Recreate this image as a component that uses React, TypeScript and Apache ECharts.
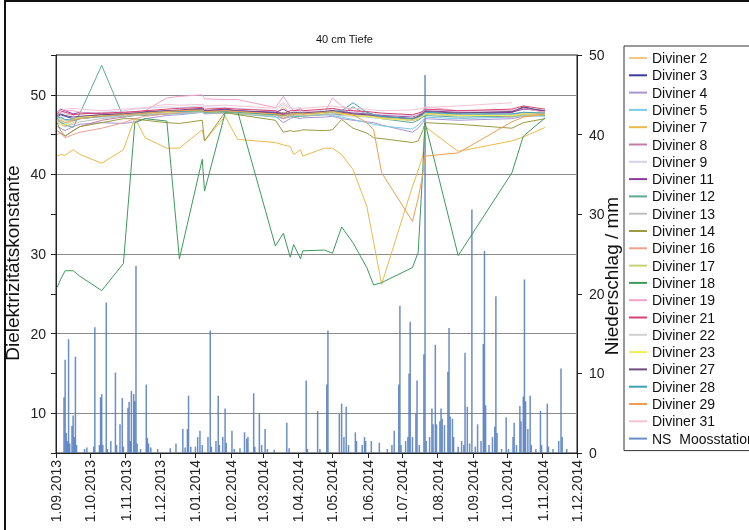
import React, { useEffect, useRef } from 'react';
import * as echarts from 'echarts';

// Measurement dates of the Diviner probes
const sampleDates = [
  '2013-09-02', '2013-09-05', '2013-09-09', '2013-09-16', '2013-09-22', '2013-10-11', '2013-10-30',
  '2013-11-09', '2013-11-18', '2013-12-07', '2013-12-18', '2014-01-07', '2014-01-09', '2014-01-27',
  '2014-02-07', '2014-03-12', '2014-03-19', '2014-03-25', '2014-03-28', '2014-04-03', '2014-04-05',
  '2014-04-24', '2014-05-01', '2014-05-09', '2014-05-19', '2014-05-31', '2014-06-06', '2014-06-13',
  '2014-07-10', '2014-07-15', '2014-07-19', '2014-07-21', '2014-08-19', '2014-10-05', '2014-10-15',
  '2014-11-03',
];

const d2 = [47.0, 46.8, 46.0, 46.5, 47.0, 47.5, 47.8, 47.6, 47.5, 47.8, 48.0, 48.2, 47.9, 48.0, 47.8, 47.5, 48.5, 47.8, 47.6, 47.5, 47.6, 47.8, 48.0, 47.8, 47.5, 47.4, 47.3, 47.2, 47.0, 47.2, 47.5, 47.8, 47.5, 47.2, 47.5, 47.8];
const d3 = [47.2, 47.5, 47.3, 47.0, 47.2, 47.4, 47.5, 47.6, 47.6, 47.8, 47.9, 48.0, 47.9, 48.0, 47.9, 47.8, 47.6, 47.5, 47.5, 47.6, 47.6, 47.7, 47.8, 47.6, 47.5, 47.4, 47.3, 47.2, 46.8, 47.0, 47.3, 47.6, 47.4, 47.8, 48.5, 47.8];
const d4 = [46.0, 45.8, 45.5, 46.0, 46.3, 46.5, 46.4, 46.6, 47.0, 47.4, 47.5, 47.8, 47.6, 47.7, 47.6, 47.3, 46.5, 47.0, 47.2, 47.0, 47.1, 47.2, 47.3, 47.0, 46.8, 46.6, 46.5, 46.2, 45.3, 45.8, 46.5, 47.0, 46.8, 47.0, 47.3, 47.4];
const d5 = [46.8, 46.6, 46.3, 46.7, 47.0, 47.2, 47.3, 47.4, 47.4, 47.6, 47.6, 47.8, 47.7, 47.8, 47.6, 47.2, 47.0, 47.2, 47.3, 47.4, 47.4, 47.5, 47.4, 47.2, 46.9, 46.5, 46.3, 46.1, 45.7, 46.2, 46.8, 47.2, 47.0, 47.2, 47.4, 47.3];
const d7 = [42.3, 42.5, 42.4, 43.1, 42.5, 41.4, 43.1, 47.1, 44.6, 43.3, 43.3, 45.6, 44.2, 47.3, 44.4, 44.0, 43.7, 43.5, 42.5, 43.1, 42.3, 43.3, 43.3, 42.5, 40.6, 36.0, 31.5, 26.2, 38.5, 40.5, 42.3, 46.0, 42.9, 44.2, 44.7, 45.9];
const d8 = [45.5, 45.2, 44.8, 45.5, 46.0, 46.8, 47.2, 47.4, 47.5, 47.8, 48.0, 48.2, 48.0, 48.1, 48.0, 47.6, 47.0, 47.5, 47.6, 47.7, 47.6, 47.8, 48.0, 47.8, 47.6, 47.5, 47.4, 47.2, 46.8, 47.0, 47.4, 47.8, 47.5, 47.4, 47.8, 47.6];
const d9 = [47.5, 47.8, 47.6, 47.4, 47.6, 47.8, 48.0, 48.2, 48.3, 48.5, 48.4, 48.6, 48.5, 48.4, 48.3, 48.0, 48.8, 48.2, 48.0, 48.0, 47.9, 48.0, 48.2, 48.0, 47.8, 47.7, 47.6, 47.5, 47.4, 47.5, 47.8, 48.2, 48.0, 48.0, 48.2, 47.9];
const d11 = [47.8, 48.2, 48.0, 47.6, 47.8, 47.6, 47.7, 47.8, 47.9, 48.0, 48.1, 48.3, 48.0, 48.2, 48.0, 47.8, 48.2, 47.7, 47.6, 47.8, 47.7, 47.9, 48.0, 47.9, 47.7, 47.6, 47.5, 47.4, 47.2, 47.4, 47.7, 48.0, 47.8, 47.8, 48.2, 48.0];
const d12 = [47.0, 46.5, 46.2, 45.9, 47.7, 53.7, 47.2, 47.5, 47.4, 47.6, 47.7, 47.9, 47.7, 47.8, 47.7, 47.4, 47.8, 47.3, 47.2, 47.3, 47.3, 47.5, 47.6, 47.5, 48.5, 47.5, 47.3, 47.0, 46.5, 46.8, 47.2, 47.4, 47.2, 47.3, 47.5, 47.4];
const d13 = [46.5, 46.3, 46.0, 46.3, 46.6, 47.0, 47.3, 47.4, 47.5, 47.7, 47.7, 47.8, 47.7, 47.7, 47.6, 47.4, 47.2, 47.3, 47.4, 47.4, 47.4, 47.5, 47.5, 47.4, 47.3, 47.2, 47.1, 47.0, 46.8, 47.0, 47.3, 47.5, 47.4, 47.5, 47.6, 47.5];
const d14 = [46.5, 45.5, 44.8, 45.5, 46.0, 46.5, 47.0, 47.0, 46.8, 46.5, 46.4, 46.8, 44.2, 47.8, 47.5, 46.8, 45.3, 45.5, 45.4, 45.5, 45.6, 45.5, 45.6, 46.9, 45.8, 45.2, 44.6, 44.5, 44.0, 44.2, 45.5, 46.5, 46.3, 45.8, 46.5, 47.0];
const d16 = [45.0, 45.2, 44.6, 45.0, 45.3, 45.8, 46.5, 47.0, 47.3, 47.6, 47.8, 48.0, 47.8, 47.9, 47.8, 47.5, 47.0, 47.4, 47.5, 47.6, 47.5, 47.7, 47.9, 47.7, 47.5, 47.4, 47.3, 47.1, 46.9, 47.1, 47.4, 47.7, 47.5, 47.3, 47.6, 47.5];
const d17 = [47.2, 47.0, 46.7, 47.0, 47.2, 47.4, 47.5, 47.5, 47.6, 47.8, 47.9, 48.0, 47.8, 47.9, 47.7, 47.4, 47.3, 47.5, 47.5, 47.6, 47.6, 47.7, 47.8, 47.6, 47.4, 47.3, 47.2, 47.1, 46.9, 47.1, 47.4, 47.7, 47.5, 47.4, 47.3, 47.5];
const d18 = [25.8, 26.8, 27.9, 27.9, 27.2, 25.4, 28.8, 46.5, 47.0, 46.7, 29.4, 41.9, 37.9, 47.7, 47.9, 31.0, 32.6, 29.6, 31.2, 29.4, 30.4, 30.5, 30.1, 33.4, 31.4, 28.3, 26.1, 26.4, 28.3, 30.2, 40.6, 46.5, 29.8, 40.2, 44.8, 47.1];
const d19 = [47.5, 47.8, 48.0, 48.0, 47.8, 47.5, 47.8, 47.8, 48.0, 49.6, 49.8, 50.0, 49.5, 49.4, 49.4, 48.4, 49.8, 48.5, 48.0, 48.3, 48.0, 47.8, 49.6, 48.6, 48.0, 47.8, 47.5, 47.3, 47.0, 47.5, 48.0, 48.5, 48.0, 48.0, 48.3, 47.8];
const d21 = [47.6, 48.0, 47.8, 47.5, 47.6, 47.7, 47.8, 47.9, 48.0, 48.2, 48.3, 48.4, 48.2, 48.3, 48.2, 48.0, 47.6, 48.0, 48.0, 48.1, 48.0, 48.2, 48.3, 48.1, 48.0, 47.9, 47.8, 47.7, 47.5, 47.7, 47.9, 48.2, 48.0, 48.2, 48.6, 48.2];
const d22 = [46.8, 47.0, 46.8, 46.9, 47.1, 47.3, 47.4, 47.6, 47.7, 47.9, 48.0, 48.1, 47.9, 48.0, 47.9, 47.6, 47.5, 47.6, 47.7, 47.7, 47.6, 47.8, 47.9, 47.7, 47.6, 47.5, 47.4, 47.3, 47.1, 47.3, 47.5, 47.8, 47.6, 47.6, 47.8, 47.7];
const d23 = [46.8, 46.3, 46.2, 46.8, 47.2, 47.4, 47.6, 47.6, 47.7, 47.8, 47.9, 48.0, 47.8, 47.9, 47.8, 47.5, 47.5, 47.6, 47.6, 47.6, 47.5, 47.7, 47.9, 47.6, 47.4, 47.3, 47.2, 47.0, 46.8, 47.0, 47.3, 47.6, 47.4, 47.4, 47.6, 47.6];
const d27 = [47.4, 47.6, 47.4, 47.2, 47.3, 47.5, 47.6, 47.7, 47.8, 48.0, 48.0, 48.2, 48.0, 48.1, 48.0, 47.7, 47.5, 47.7, 47.8, 47.8, 47.7, 47.9, 48.0, 47.8, 47.6, 47.5, 47.4, 47.3, 47.0, 47.3, 47.6, 47.9, 47.7, 47.9, 48.4, 48.0];
const d28 = [47.0, 47.2, 46.9, 46.8, 47.0, 47.3, 47.5, 47.6, 47.7, 47.9, 47.9, 48.0, 47.8, 47.9, 47.8, 47.5, 47.4, 47.6, 47.6, 47.7, 47.6, 47.8, 47.9, 48.0, 49.0, 47.8, 47.5, 47.3, 47.0, 47.2, 47.5, 47.8, 47.6, 47.6, 47.8, 47.7];
const d29 = [46.5, 46.8, 46.5, 46.8, 47.0, 47.3, 47.5, 47.6, 47.7, 47.9, 48.0, 48.1, 47.9, 48.0, 47.9, 47.6, 47.4, 47.6, 47.6, 47.7, 47.6, 47.8, 47.9, 47.7, 47.5, 46.5, 45.6, 40.2, 34.1, 37.0, 40.0, 42.3, 42.7, 46.6, 47.2, 47.6];
const d31 = [47.8, 48.0, 48.2, 48.3, 48.2, 48.0, 48.2, 48.3, 48.4, 48.8, 48.7, 48.8, 48.6, 48.7, 48.6, 48.3, 49.0, 48.4, 48.3, 48.4, 48.3, 48.5, 48.6, 48.4, 48.3, 48.2, 48.1, 48.0, 48.1, 48.2, 48.3, 48.4, 48.6, 49.0, null, null];

const divinerNames = [
  'Diviner 2', 'Diviner 3', 'Diviner 4', 'Diviner 5', 'Diviner 7', 'Diviner 8', 'Diviner 9', 'Diviner 11',
  'Diviner 12', 'Diviner 13', 'Diviner 14', 'Diviner 16', 'Diviner 17', 'Diviner 18', 'Diviner 19',
  'Diviner 21', 'Diviner 22', 'Diviner 23', 'Diviner 27', 'Diviner 28', 'Diviner 29', 'Diviner 31',
];
const divinerValues = [d2, d3, d4, d5, d7, d8, d9, d11, d12, d13, d14, d16, d17, d18, d19, d21, d22, d23, d27, d28, d29, d31];
const divinerColors = [
  '#f3c48c', '#3b3b99', '#a892d2', '#7ccbe4', '#ebb84e', '#c27ca4', '#d6cfee', '#8b3b9d',
  '#5fa993', '#bfbfbf', '#9c9a42', '#eba190', '#c9d27a', '#3d9a5d', '#f2a3c7',
  '#d3436f', '#d0d0d0', '#eeee5c', '#6c4b7f', '#40a1b5', '#ee9e52', '#f2c3d5',
];

// Daily precipitation (day offset from 1.09.2013, mm)
const precipName = 'NS  Moosstation';
const precipDays = [
  7, 8, 9, 10, 11, 12, 14, 15, 16, 17, 18, 25, 27, 33, 34, 38, 39, 40, 41, 44, 45, 48, 52, 53, 56, 58, 59,
  63, 64, 65, 66, 68, 69, 70, 71, 74, 79, 80, 81, 83, 89, 100, 105, 111, 113, 115, 116, 118, 122, 124, 126,
  128, 133, 135, 136, 140, 142, 143, 146, 148, 149, 154, 156, 161, 165, 167, 168, 173, 174, 178, 180, 183,
  185, 191, 202, 204, 219, 220, 229, 231, 237, 238, 248, 250, 252, 254, 256, 262, 263, 268, 270, 271, 276,
  283, 290, 294, 296, 300, 301, 302, 306, 308, 309, 310, 312, 315, 316, 318, 322, 323, 324, 327, 329, 330,
  332, 333, 336, 337, 338, 340, 343, 344, 345, 347, 348, 352, 355, 357, 358, 360, 362, 364, 367, 369, 372,
  374, 375, 376, 379, 382, 384, 385, 386, 390, 394, 396, 400, 401, 403, 406, 407, 409, 410, 411, 413, 415,
  416, 420, 424, 425, 430, 431, 435, 440, 442, 443, 447,
];
const precipMm = [
  7.0, 11.7, 2.5, 1.5, 14.3, 1.2, 3.4, 4.7, 2.0, 12.1, 1.0, 0.5, 0.7, 0.8, 15.8, 1.0, 7.0, 7.4, 1.0, 18.9, 0.5, 1.5, 10.1, 1.0, 3.6, 6.9, 0.8,
  5.7, 6.4, 1.5, 7.8, 7.4, 6.5, 23.5, 1.2, 0.5, 8.6, 1.9, 1.2, 0.7, 0.5, 0.6, 1.2, 3.0, 0.7, 3.0, 7.2, 0.8, 0.8, 2.0, 2.8,
  1.0, 2.0, 15.4, 0.8, 1.5, 7.2, 1.0, 2.0, 5.6, 1.3, 2.8, 0.5, 0.6, 2.6, 1.8, 2.0, 7.5, 0.8, 5.0, 1.0, 3.0,
  0.5, 0.4, 3.8, 0.6, 9.1, 0.5, 5.3, 0.5, 8.6, 15.4, 4.9, 6.2, 2.0, 5.8, 1.0, 2.6, 1.5, 1.0, 2.0, 1.5, 1.5,
  1.3, 0.5, 1.0, 2.8, 8.6, 18.5, 1.0, 1.5, 2.0, 10.0, 16.5, 2.0, 5.0, 9.1, 1.0, 12.4, 47.5, 1.5, 2.0, 5.6, 3.6,
  13.6, 3.6, 4.0, 5.6, 4.3, 3.5, 10.2, 15.7, 4.6, 4.3, 2.0, 0.8, 1.5, 1.0, 12.6, 5.8, 1.2, 30.6, 0.8, 3.6, 1.5,
  13.7, 25.4, 6.0, 1.0, 2.0, 3.3, 19.7, 2.5, 0.5, 4.5, 0.5, 2.0, 3.8, 1.0, 5.9, 4.0, 7.1, 21.8, 6.5, 3.0, 7.2,
  1.0, 0.5, 5.3, 1.0, 6.2, 0.8, 0.5, 1.5, 10.6, 2.0, 0.5,
];
const precipColor = '#6a8cc4';

const tickDates = [
  '2013-09-01', '2013-10-01', '2013-11-01', '2013-12-01', '2014-01-01', '2014-02-01', '2014-03-01', '2014-04-01',
  '2014-05-01', '2014-06-01', '2014-07-01', '2014-08-01', '2014-09-01', '2014-10-01', '2014-11-01', '2014-12-01',
];

const toTs = (s: string) => {
  const [y, m, d] = s.split('-').map(Number);
  return new Date(y, m - 1, d).getTime();
};
const FONT = '"Liberation Sans", Arial, sans-serif';

export default function App() {
  const ref = useRef<HTMLDivElement>(null);
  useEffect(() => {
    if (!ref.current) return;
    const chart = echarts.init(ref.current, undefined, { renderer: 'svg' });
    const tickTs = tickDates.map(toTs);
    const lineSeries = divinerNames.map((name, k) => ({
      name,
      type: 'line',
      yAxisIndex: 0,
      xAxisIndex: 0,
      symbol: 'none',
      showSymbol: false,
      connectNulls: true,
      color: divinerColors[k],
      lineStyle: { width: 1, color: divinerColors[k] },
      data: sampleDates.map((d, i) => [toTs(d), divinerValues[k][i]]),
    }));
    const barSeries = {
      name: precipName,
      type: 'bar',
      yAxisIndex: 1,
      xAxisIndex: 0,
      barWidth: 1.5,
      color: precipColor,
      itemStyle: { color: 'rgba(80,122,190,0.85)' },
      data: precipDays.map((day, i) => [new Date(2013, 8, 1 + day).getTime(), precipMm[i]]),
    };
    chart.setOption({
      animation: false,
      textStyle: { fontFamily: FONT },
      title: {
        text: '40 cm Tiefe',
        left: 311,
        top: 28,
        textStyle: { fontSize: 11, fontWeight: 'normal', color: '#111', fontFamily: FONT },
      },
      graphic: [
        { type: 'line', shape: { x1: 5, y1: 0, x2: 5, y2: 530 }, style: { stroke: '#111', lineWidth: 2 } },
        { type: 'line', shape: { x1: 4, y1: 1, x2: 749, y2: 1 }, style: { stroke: '#111', lineWidth: 2 } },
      ],
      legend: {
        orient: 'vertical',
        left: 624,
        top: 46,
        padding: [5, 8, 5, 5],
        itemGap: 3.3,
        itemWidth: 18,
        itemHeight: 2,
        icon: 'rect',
        selectedMode: false,
        borderColor: '#333',
        borderWidth: 1,
        textStyle: { fontSize: 14, color: '#111', fontFamily: FONT },
        data: [...divinerNames, precipName],
      },
      grid: {
        left: 56,
        top: 55,
        right: 172,
        bottom: 77,
        show: true,
        borderColor: '#222',
        borderWidth: 1,
        outerBoundsMode: 'none',
        containLabel: false,
      },
      xAxis: {
        type: 'value',
        min: toTs('2013-09-01'),
        max: toTs('2014-12-01'),
        axisLine: { show: true, onZero: false, lineStyle: { color: '#222' } },
        axisTick: { show: true, length: 5, customValues: tickTs, lineStyle: { color: '#222' } },
        axisLabel: {
          customValues: tickTs,
          rotate: 90,
          margin: 7,
          fontSize: 14,
          color: '#222',
          formatter: (v: number) => {
            const d = new Date(v);
            return `1.${String(d.getMonth() + 1).padStart(2, '0')}.${d.getFullYear()}`;
          },
        },
        splitLine: { show: false },
      },
      yAxis: [
        {
          type: 'value',
          position: 'left',
          min: 5,
          max: 55,
          interval: 5,
          name: 'Dielektrizitätskonstante',
          nameLocation: 'middle',
          nameRotate: 90,
          nameGap: 34,
          nameMoveOverlap: false,
          nameTextStyle: { fontSize: 19, color: '#111', fontFamily: FONT, padding: [0, 18, 0, 0] },
          axisLine: { show: true, lineStyle: { color: '#222' } },
          axisTick: { show: true, length: 5, lineStyle: { color: '#222' } },
          axisLabel: {
            fontSize: 14,
            color: '#222',
            margin: 10,
            formatter: (v: number) => (v % 10 === 0 ? String(v) : ''),
          },
          splitLine: { show: true, lineStyle: { color: ['rgba(0,0,0,0)', '#8c8c8c'], width: 1 } },
        },
        {
          type: 'value',
          position: 'right',
          min: 0,
          max: 50,
          interval: 10,
          name: 'Niederschlag / mm',
          nameLocation: 'middle',
          nameRotate: 90,
          nameGap: 25,
          nameMoveOverlap: false,
          nameTextStyle: { fontSize: 19, color: '#111', fontFamily: FONT, padding: [0, 44, 0, 0] },
          axisLine: { show: true, lineStyle: { color: '#222' } },
          axisTick: { show: true, length: 5, lineStyle: { color: '#222' } },
          axisLabel: { fontSize: 14, color: '#222', margin: 12 },
          splitLine: { show: false },
        },
      ],
      series: [...lineSeries, barSeries],
    });
    return () => chart.dispose();
  }, []);
  return <div ref={ref} style={{ position: 'fixed', left: 0, top: 0, width: 749, height: 530 }} />;
}
